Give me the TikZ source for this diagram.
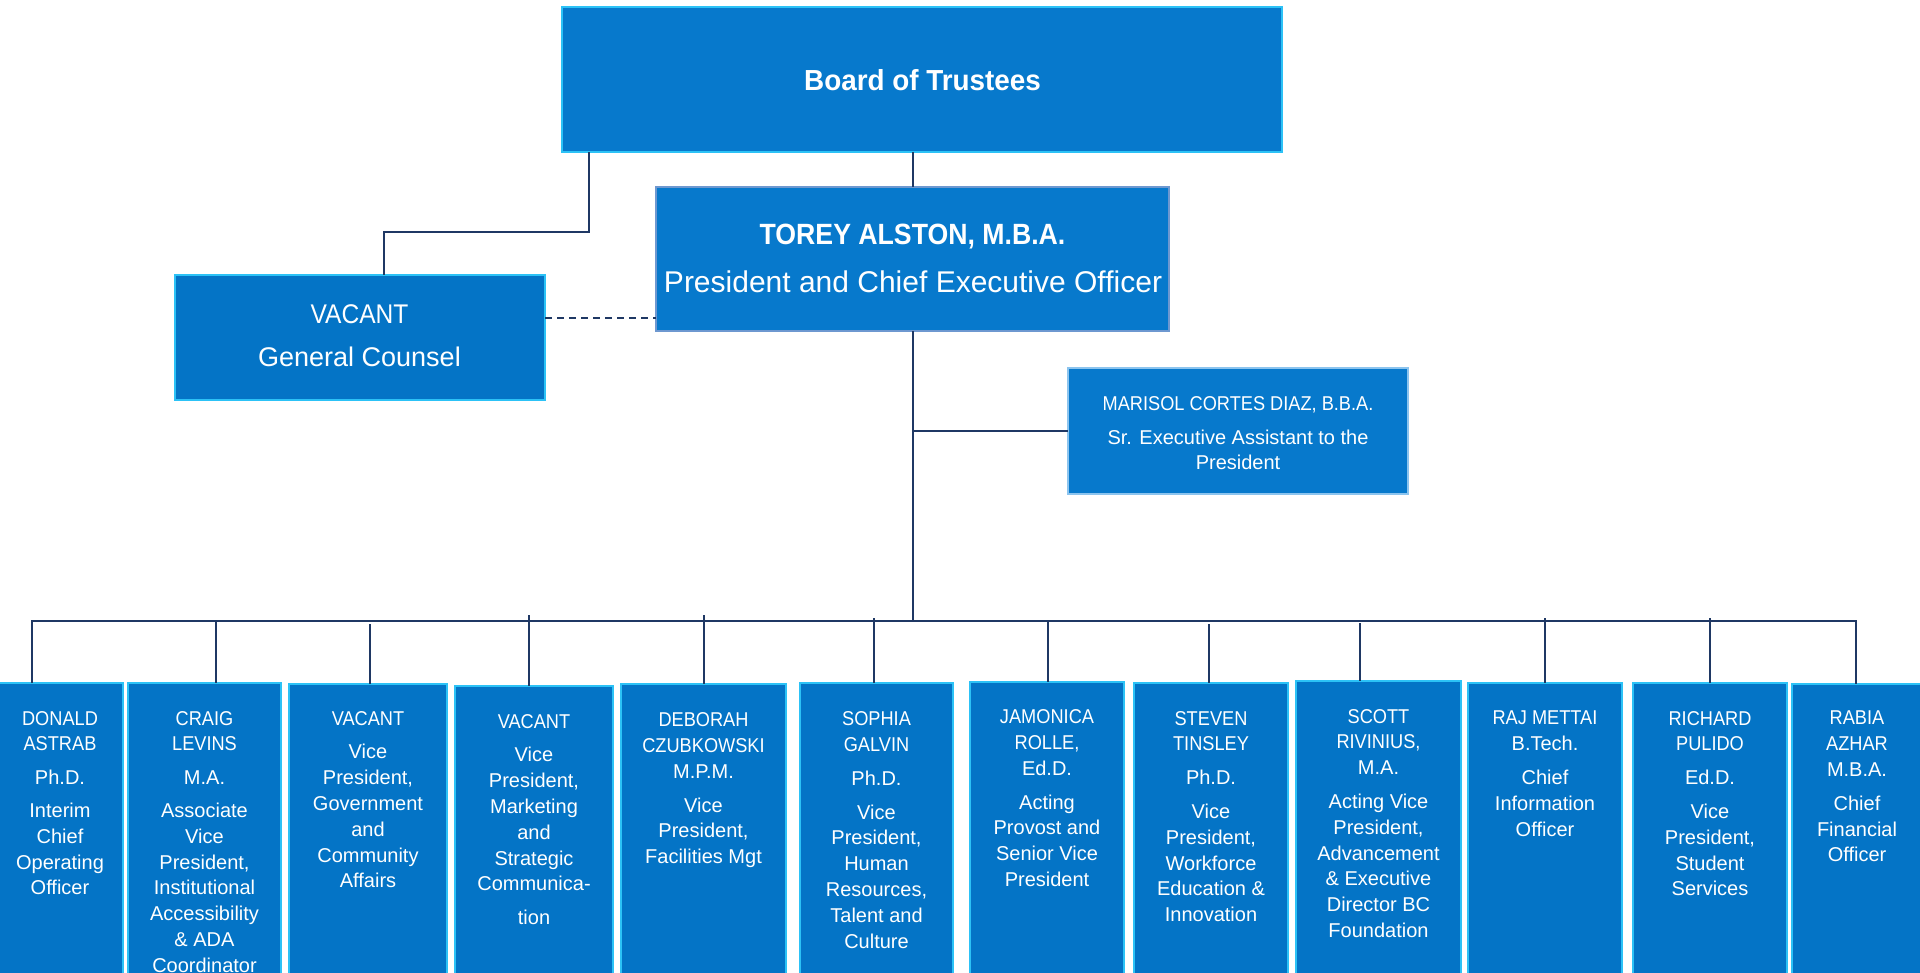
\documentclass[tikz,border=0pt]{standalone}
\usepackage{fontspec}
\setmainfont{Liberation Sans}
\newfontfamily\capsf[FakeStretch=0.91]{Liberation Sans}
\newfontfamily\boardf[FakeStretch=0.96]{Liberation Sans}
\definecolor{boxfill}{HTML}{0474C6}
\definecolor{boardfill}{HTML}{0779CC}
\definecolor{boxline}{HTML}{2CC2F6}
\definecolor{presline}{HTML}{6E98D0}
\definecolor{marline}{HTML}{8CC4EE}
\definecolor{navy}{HTML}{1F3864}
\newcommand{\nm}[1]{{\capsf #1}}
\begin{document}
\begin{tikzpicture}[x=1pt,y=-1pt,
  orgbox/.style={rectangle, draw=boxline, fill=boxfill, line width=2.5pt, inner sep=0pt, outer sep=0pt},
  vpbox/.style={orgbox, minimum height=330pt, anchor=north},
  conn/.style={draw=navy, line width=2pt},
  txt/.style={text=white, inner sep=0pt, align=center},
  vptext/.style={txt, anchor=north, font=\fontsize{20}{25.8}\selectfont}]
\useasboundingbox (0,0) rectangle (1920,973);
\clip (0,0) rectangle (1920,973);
\fill[white] (0,0) rectangle (1920,973);

% top boxes
\node[orgbox, fill=boardfill, minimum width=720pt, minimum height=145pt] (board) at (922,79.5) {};
\node[txt, anchor=base, font=\boardf\bfseries\fontsize{29}{34}\selectfont] (boardt) at (922.5,90.7) {Board of Trustees};

\node[orgbox, fill=boardfill, draw=presline, line width=2pt, minimum width=513pt, minimum height=144pt] (pres) at (912.5,259) {};
\node[txt, anchor=base, font=\capsf\bfseries\fontsize{29.3}{34}\selectfont] (prest1) at (912.5,245) {TOREY ALSTON, M.B.A.};
\node[txt, anchor=base, font=\fontsize{30}{36}\selectfont] (prest2) at (913,292.7) {President and Chief Executive Officer};

\node[orgbox, minimum width=370pt, minimum height=125pt] (gc) at (360,337.5) {};
\node[txt, anchor=base, font=\capsf\fontsize{27}{32}\selectfont] (gct1) at (359.5,324) {VACANT};
\node[txt, anchor=base, font=\fontsize{27}{32}\selectfont] (gct2) at (359.5,366.7) {General Counsel};

\node[orgbox, fill=boardfill, draw=marline, line width=1.5pt, minimum width=340pt, minimum height=126pt] (mar) at (1238,431) {};
\node[txt, anchor=north, font=\fontsize{20}{25}\selectfont] (mart) at (1238,396) {\nm{MARISOL CORTES DIAZ, B.B.A.}\\[9.3pt] Sr. Executive Assistant to the\\President};

% bottom boxes
\node[vpbox, minimum width=126pt] (b1) at (60,683) {};
\node[vpbox, minimum width=153pt] (b2) at (204.5,683) {};
\node[vpbox, minimum width=158pt] (b3) at (368,684) {};
\node[vpbox, minimum width=158pt] (b4) at (534,686) {};
\node[vpbox, minimum width=165pt] (b5) at (703.5,684) {};
\node[vpbox, minimum width=153pt] (b6) at (876.5,683) {};
\node[vpbox, minimum width=154pt] (b7) at (1047,682) {};
\node[vpbox, minimum width=154pt] (b8) at (1211,683) {};
\node[vpbox, minimum width=165pt] (b9) at (1378.5,681) {};
\node[vpbox, minimum width=154pt] (b10) at (1545,683) {};
\node[vpbox, minimum width=154pt] (b11) at (1710,683) {};
\node[vpbox, minimum width=130pt] (b12) at (1857,684) {};

\node[vptext] (t1) at (60,711) {\nm{DONALD}\\\nm{ASTRAB}\\[8pt] Ph.D.\\[7pt] Interim\\Chief\\Operating\\Officer};
\node[vptext] (t2) at (204.5,711) {\nm{CRAIG}\\\nm{LEVINS}\\[8pt] M.A.\\[7pt] Associate\\Vice\\President,\\Institutional\\Accessibility\\\& ADA\\Coordinator};
\node[vptext] (t3) at (368,711) {\nm{VACANT}\\[8pt] Vice\\President,\\Government\\and\\Community\\Affairs};
\node[vptext] (t4) at (534,714) {\nm{VACANT}\\[8pt] Vice\\President,\\Marketing\\and\\Strategic\\Communica-\\[8pt] tion};
\node[vptext] (t5) at (703.5,712.5) {\nm{DEBORAH}\\\nm{CZUBKOWSKI}\\M.P.M.\\[8pt] Vice\\President,\\Facilities Mgt};
\node[vptext] (t6) at (876.5,711.5) {\nm{SOPHIA}\\\nm{GALVIN}\\[8pt] Ph.D.\\[8pt] Vice\\President,\\Human\\Resources,\\Talent and\\Culture};
\node[vptext] (t7) at (1047,709.5) {\nm{JAMONICA}\\\nm{ROLLE,}\\Ed.D.\\[8pt] Acting\\Provost and\\Senior Vice\\President};
\node[vptext] (t8) at (1211,711) {\nm{STEVEN}\\\nm{TINSLEY}\\[8pt] Ph.D.\\[8pt] Vice\\President,\\Workforce\\Education \&\\Innovation};
\node[vptext] (t9) at (1378.5,709) {\nm{SCOTT}\\\nm{RIVINIUS,}\\M.A.\\[8pt] Acting Vice\\President,\\Advancement\\\& Executive\\Director BC\\Foundation};
\node[vptext] (t10) at (1545,711) {\nm{RAJ METTAI}\\B.Tech.\\[8pt] Chief\\Information\\Officer};
\node[vptext] (t11) at (1710,711) {\nm{RICHARD}\\\nm{PULIDO}\\[8pt] Ed.D.\\[8pt] Vice\\President,\\Student\\Services};
\node[vptext] (t12) at (1857,711) {\nm{RABIA}\\\nm{AZHAR}\\M.B.A.\\[8pt] Chief\\Financial\\Officer};

% junction coordinates
\coordinate (pj) at (913,621);
\coordinate (mj) at (913,431);
\coordinate (ga) at (589,232);
\coordinate (gb) at (384,232);
\coordinate (dj) at (600,318);
\coordinate (d1) at (32,621);
\coordinate (d2) at (216,621);
\coordinate (d3) at (370,624);
\coordinate (d4) at (529,615);
\coordinate (d5) at (704,615);
\coordinate (d6) at (874,618);
\coordinate (d7) at (1048,621);
\coordinate (d8) at (1209,624);
\coordinate (d9) at (1360,623);
\coordinate (d10) at (1545,618);
\coordinate (d11) at (1710,618);
\coordinate (d12) at (1856,621);

% connectors
\draw[conn] (board.south -| pj) -- (pres.north -| pj);
\draw[conn] (board.south -| ga) -- (ga) -- (gb) -- (gc.north -| gb);
\draw[conn, dash pattern=on 7pt off 5pt] (gc.east |- dj) -- (pres.west |- dj);
\draw[conn] (pres.south -| pj) -- (pj);
\draw[conn] (mj) -- (mar.west |- mj);
\draw[conn, line width=2.5pt] (b1.north -| d1) -- (d1) -- (d12) -- (b12.north -| d12);
\foreach \i in {2,...,11} {
  \draw[conn] (d\i) -- (b\i.north -| d\i);
}
\end{tikzpicture}
\end{document}
